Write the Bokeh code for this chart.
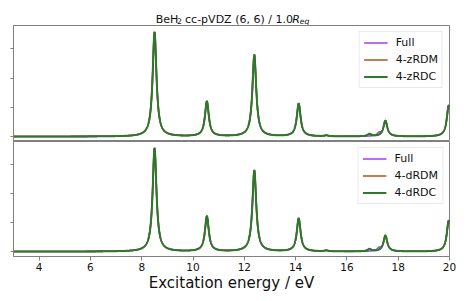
import numpy as np
from bokeh.plotting import figure
from bokeh.layouts import column
from bokeh.models import Range1d, FixedTicker, Label
from bokeh.embed import file_html
from bokeh.resources import INLINE

# ---- data ----
x_limits = [3, 20]
y_limits = [-0.17, 3.80]
x_ticks = [4, 6, 8, 10, 12, 14, 16, 18, 20]
y_ticks = [0, 1, 2, 3]

# stick spectra (excitation energy / eV, intensity), Lorentzian broadened
full_energies = [8.50, 10.54, 12.39, 14.12, 15.20, 17.25, 17.50, 19.97]
full_heights = [3.57, 1.19, 2.79, 1.12, 0.03, 0.09, 0.52, 1.06]

zrdm_energies = [8.50, 10.54, 12.39, 14.12, 15.20, 16.88, 17.50, 19.97]
zrdm_heights = [3.57, 1.19, 2.79, 1.12, 0.03, 0.08, 0.54, 1.06]
zrdc_energies = [8.50, 10.54, 12.39, 14.12, 15.20, 16.88, 17.50, 19.97]
zrdc_heights = [3.57, 1.19, 2.79, 1.12, 0.03, 0.08, 0.54, 1.06]

drdm_energies = [8.50, 10.54, 12.39, 14.12, 15.20, 16.88, 17.50, 19.97]
drdm_heights = [3.57, 1.21, 2.80, 1.14, 0.03, 0.08, 0.55, 1.07]
drdc_energies = [8.50, 10.54, 12.39, 14.12, 15.20, 16.88, 17.50, 19.97]
drdc_heights = [3.57, 1.21, 2.80, 1.14, 0.03, 0.08, 0.55, 1.07]

hwhm = 0.09

top_series = [("Full", full_energies, full_heights),
              ("4-zRDM", zrdm_energies, zrdm_heights),
              ("4-zRDC", zrdc_energies, zrdc_heights)]
bottom_series = [("Full", full_energies, full_heights),
                 ("4-dRDM", drdm_energies, drdm_heights),
                 ("4-dRDC", drdc_energies, drdc_heights)]

colors = ["#a03cf0", "#b0501e", "#2a7a2a"]
widths = [1.6, 1.6, 2.0]

FONT = "DejaVu Sans"
SPINE = "#808080"

grid = np.linspace(x_limits[0], x_limits[1], 3401)


def broaden(energies, heights):
    y = np.zeros_like(grid)
    for e, h in zip(energies, heights):
        y += h * hwhm ** 2 / ((grid - e) ** 2 + hwhm ** 2)
    return y


shared_x = Range1d(*x_limits)

FIG_W = 460
BORDER_L = 13
BORDER_R = 11


def make_panel(series, height, border_top, border_bottom, show_x):
    p = figure(width=FIG_W, height=height, x_range=shared_x,
               y_range=Range1d(*y_limits), output_backend="svg",
               toolbar_location=None,
               min_border_left=BORDER_L, min_border_right=BORDER_R,
               min_border_top=border_top, min_border_bottom=border_bottom)
    p.grid.visible = False
    p.outline_line_color = SPINE
    p.outline_line_width = 1
    p.background_fill_color = "white"
    p.border_fill_color = "white"

    for (name, en, hs), c, w in zip(series, colors, widths):
        p.line(grid, broaden(en, hs), line_color=c, line_width=w,
               legend_label=name)

    ya = p.yaxis[0]
    ya.ticker = FixedTicker(ticks=y_ticks)
    ya.major_label_overrides = {t: "" for t in y_ticks}
    ya.major_label_text_font_size = "1px"
    ya.major_label_standoff = 0
    ya.major_tick_out = 3
    ya.major_tick_in = 0
    ya.minor_tick_line_color = None
    ya.axis_line_color = SPINE
    ya.major_tick_line_color = SPINE

    xa = p.xaxis[0]
    if show_x:
        xa.ticker = FixedTicker(ticks=x_ticks)
        xa.major_tick_out = 4
        xa.major_tick_in = 0
        xa.minor_tick_line_color = None
        xa.axis_line_color = SPINE
        xa.major_tick_line_color = SPINE
        xa.major_label_text_font = FONT
        xa.major_label_text_font_size = "10.5px"
        xa.major_label_text_color = "#111111"
        xa.major_label_standoff = 2
        xa.axis_label = "Excitation energy / eV"
        xa.axis_label_text_font = FONT
        xa.axis_label_text_font_size = "15px"
        xa.axis_label_text_font_style = "normal"
        xa.axis_label_text_color = "#111111"
        xa.axis_label_standoff = 0
    else:
        xa.visible = False

    lg = p.legend[0]
    lg.location = "top_right"
    lg.margin = 6
    lg.padding = 4
    lg.spacing = 4
    lg.label_height = 13
    lg.glyph_height = 13
    lg.glyph_width = 24
    lg.label_standoff = 8
    lg.label_text_font = FONT
    lg.label_text_font_size = "11px"
    lg.label_text_color = "#111111"
    lg.border_line_color = "#d6d6d6"
    lg.border_line_width = 1
    lg.background_fill_alpha = 0.8
    return p


# ---- title strip (its own small figure, pixel coordinates) ----
TITLE_H = 25
title_fig = figure(width=FIG_W, height=TITLE_H, x_range=Range1d(0, FIG_W),
                   y_range=Range1d(0, TITLE_H), output_backend="svg",
                   toolbar_location=None, min_border=0)
title_fig.axis.visible = False
title_fig.grid.visible = False
title_fig.outline_line_color = None
title_fig.border_fill_color = "white"
title_fig.background_fill_color = "white"

title_parts = [
    ("BeH", 150.0, "normal", "11px", 6.5),
    ("2", 172.6, "normal", "7.7px", 4.2),
    ("cc-pVDZ (6, 6) / 1.0", 181.0, "normal", "11px", 6.5),
    ("R", 294.0, "italic", "11px", 6.5),
    ("eq", 301.9, "italic", "7.7px", 4.2),
]
for txt, xpos, style, size, ypos in title_parts:
    title_fig.add_layout(Label(x=xpos, y=ypos, text=txt, text_font=FONT,
                               text_font_size=size, text_font_style=style,
                               text_color="#111111", text_align="left",
                               text_baseline="alphabetic"))

top = make_panel(top_series, 116, 0, 0, False)
bottom = make_panel(bottom_series, 160, 0, 45, True)

layout = column(title_fig, top, bottom, spacing=0)

html = file_html(layout, INLINE)
open("out.html", "w").write(html)
